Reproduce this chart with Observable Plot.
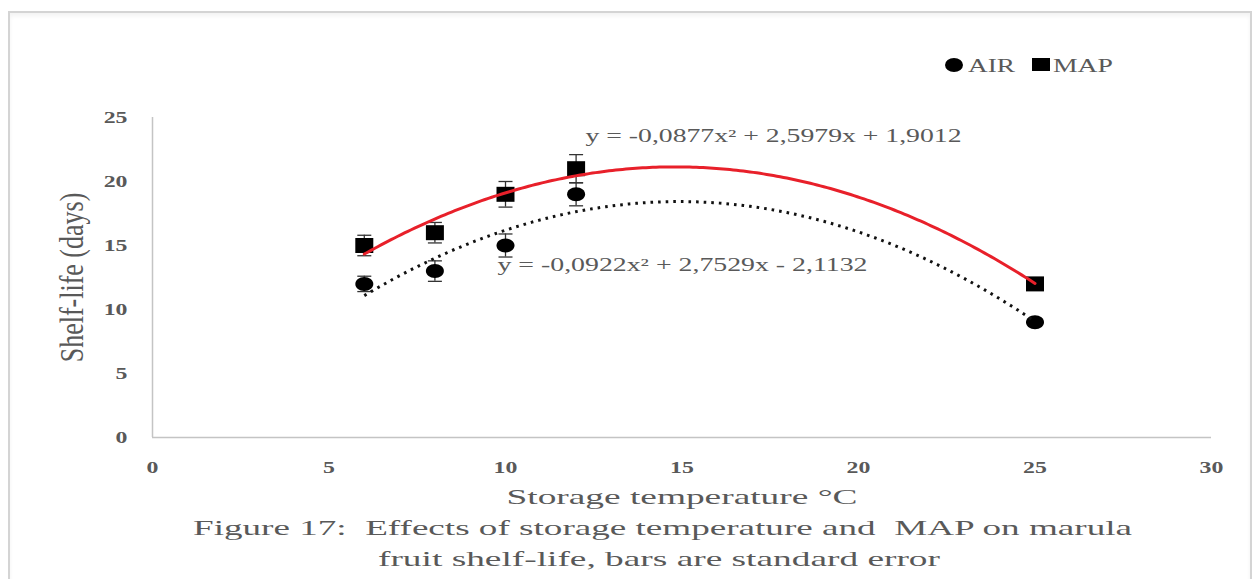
<!DOCTYPE html>
<html><head><meta charset="utf-8">
<script src="https://cdn.jsdelivr.net/npm/d3@7"></script>
<script src="https://cdn.jsdelivr.net/npm/@observablehq/plot@0.6"></script>
<style>
html,body{margin:0;padding:0;background:#fff;overflow:hidden}
body{font-family:"Liberation Serif","Times New Roman",serif}
#page{position:relative;width:1252px;height:579px;overflow:hidden}
#frame{position:absolute;left:8px;top:11px;width:1244px;height:640px;border:2px solid #d4d4d4;border-right-width:2px;box-sizing:border-box;box-shadow:inset 0 3px 4px rgba(0,0,0,0.05)}
#legend{position:absolute;left:0;top:0;width:1252px;height:90px}
.sw{position:absolute;background:#000}
.lt{position:absolute;font-size:19px;line-height:19px;color:#595959;white-space:pre;transform-origin:0 50%}
#chart{position:absolute;left:0;top:90px}
#chart svg{display:block}
.cl{position:absolute;white-space:pre;font-size:22px;line-height:22px;color:#595959;transform-origin:0 50%}
</style>
</head>
<body>
<div id="page">
  <div id="frame"></div>
  <div id="legend"></div>
  <div id="chart"></div>
  <div id="caption"></div>
</div>
<script>
// ---- data ----
const temps = [6, 8, 10, 12, 25];
const airDays = [12, 13, 15, 19, 9];
const mapDays = [15, 16, 19, 21, 12];
const airSE = [0.6, 0.8, 0.9, 0.9, 0.3];
const mapSE = [0.8, 0.8, 1.0, 1.1, 0.3];
const xTicks = [0, 5, 10, 15, 20, 25, 30];
const yTicks = [0, 5, 10, 15, 20, 25];
const seriesNames = ["AIR", "MAP"];
const eqAIR = "y = -0,0922x² + 2,7529x - 2,1132";
const eqMAP = "y = -0,0877x² + 2,5979x + 1,9012";
const xTitle = "Storage temperature °C";
const yTitle = "Shelf-life (days)";
const captionLines = ["Figure 17:  Effects of storage temperature and  MAP on marula", "fruit shelf-life, bars are standard error"];

// ---- tables ----
const air = temps.map((t, i) => ({x: t, y: airDays[i], se: airSE[i]}));
const map = temps.map((t, i) => ({x: t, y: mapDays[i], se: mapSE[i]}));

// least-squares quadratic trendline (as Excel computes it)
function quadFit(xs, ys) {
  const S = [0,0,0,0,0], T = [0,0,0];
  xs.forEach((x, i) => { for (let k = 0; k < 5; k++) S[k] += x ** k; for (let k = 0; k < 3; k++) T[k] += ys[i] * x ** k; });
  const A = [[S[0],S[1],S[2],T[0]],[S[1],S[2],S[3],T[1]],[S[2],S[3],S[4],T[2]]];
  for (let i = 0; i < 3; i++) for (let j = i + 1; j < 3; j++) { const f = A[j][i] / A[i][i]; for (let k = i; k < 4; k++) A[j][k] -= f * A[i][k]; }
  const c = [0,0,0];
  for (let i = 2; i >= 0; i--) { let s = A[i][3]; for (let k = i + 1; k < 3; k++) s -= A[i][k] * c[k]; c[i] = s / A[i][i]; }
  return c;
}
const [x0, x1] = d3.extent(temps);
function trend(ys) {
  const c = quadFit(temps, ys);
  return d3.range(0, 201).map(i => { const x = x0 + (x1 - x0) * i / 200; return {x, y: c[0] + c[1] * x + c[2] * x * x}; });
}
const airTrend = trend(airDays);
const mapTrend = trend(mapDays);

// custom symbols
const k = 0.5523;
const ellipseSym = {draw(ctx) { const rx = 9, ry = 7;
  ctx.moveTo(rx, 0); ctx.bezierCurveTo(rx, ry*k, rx*k, ry, 0, ry); ctx.bezierCurveTo(-rx*k, ry, -rx, ry*k, -rx, 0);
  ctx.bezierCurveTo(-rx, -ry*k, -rx*k, -ry, 0, -ry); ctx.bezierCurveTo(rx*k, -ry, rx, -ry*k, rx, 0); ctx.closePath(); }};
const squareSym = {draw(ctx) { ctx.rect(-9, -7.5, 18, 15); }};
const capSym = {draw(ctx) { ctx.moveTo(-7, 0); ctx.lineTo(7, 0); }};

function errMarks(data) {
  return [
    Plot.ruleX(data, {x: "x", y1: d => d.y - d.se, y2: d => d.y + d.se, stroke: "#333", strokeWidth: 1.3}),
    Plot.dot(data, {x: "x", y: d => d.y + d.se, symbol: capSym, fill: "none", stroke: "#333", strokeWidth: 1.3}),
    Plot.dot(data, {x: "x", y: d => d.y - d.se, symbol: capSym, fill: "none", stroke: "#333", strokeWidth: 1.3})
  ];
}

const plot = Plot.plot({
  width: 1252, height: 425,
  marginLeft: 152, marginRight: 41, marginTop: 27, marginBottom: 78,
  x: {domain: [0, 30], ticks: xTicks, tickSize: 0, tickPadding: 23, label: null},
  y: {domain: [0, 25], ticks: yTicks, tickSize: 0, tickPadding: 25, label: null},
  style: {fontFamily: "Liberation Serif, serif", background: "transparent", overflow: "visible", color: "#595959"},
  marks: [
    Plot.ruleY([0], {stroke: "#c4c4c4", strokeWidth: 1.5}),
    Plot.ruleX([0], {stroke: "#c4c4c4", strokeWidth: 1.5}),
    ...errMarks(air),
    ...errMarks(map),
    Plot.dot(air, {x: "x", y: "y", symbol: ellipseSym, fill: "#000", stroke: "none"}),
    Plot.dot(map, {x: "x", y: "y", symbol: squareSym, fill: "#000", stroke: "none"}),
    Plot.line(airTrend, {x: "x", y: "y", stroke: "#111", strokeWidth: 3, strokeDasharray: "2.6 5", strokeLinecap: "butt", curve: "linear"}),
    Plot.line(mapTrend, {x: "x", y: "y", stroke: "#e8202a", strokeWidth: 3, curve: "linear"}),
    Plot.text([eqMAP], {text: d => d, frameAnchor: "top-left", dx: 433, dy: 19, textAnchor: "start", lineAnchor: "middle", fontSize: 18, fill: "#595959"}),
    Plot.text([eqAIR], {text: d => d, frameAnchor: "top-left", dx: 345, dy: 148, textAnchor: "start", lineAnchor: "middle", fontSize: 18, fill: "#595959"}),
    Plot.text([xTitle], {text: d => d, frameAnchor: "bottom", dy: 59, textAnchor: "middle", lineAnchor: "middle", fontSize: 22, fill: "#595959"}),
    Plot.text([yTitle], {text: d => d, frameAnchor: "left", dx: -80, rotate: -90, textAnchor: "middle", lineAnchor: "middle", fontSize: 26, fill: "#595959"})
  ]
});
document.getElementById("chart").append(plot);

// stretch texts horizontally like the (horizontally scaled) reference picture
function stretch(t, target) {
  t.setAttribute("textLength", target);
  t.setAttribute("lengthAdjust", "spacingAndGlyphs");
}
plot.querySelectorAll('[aria-label^="x-axis"] text, [aria-label^="y-axis"] text').forEach(t => {
  t.setAttribute("font-size", 17); t.style.fontSize = "17px";
  t.setAttribute("font-weight", "bold"); t.style.fontWeight = "bold";
  t.style.fill = "#595959";
  stretch(t, t.getComputedTextLength() * 1.4);
});
plot.querySelectorAll("text").forEach(t => {
  const s = t.textContent;
  if (s === eqMAP) stretch(t, 376);
  else if (s === eqAIR) stretch(t, 370);
  else if (s === xTitle) stretch(t, 351);
  else if (s === yTitle) {
    const tr = t.getAttribute("transform");
    if (tr && tr.includes("rotate")) t.setAttribute("transform", tr + " scale(1,1.3)");
  }
});

// legend (above the svg)
const legend = document.getElementById("legend");
function fitHTML(el, left, target) {
  el.style.left = left + "px";
  const w = el.getBoundingClientRect().width;
  el.style.transform = `scaleX(${target / w})`;
}
const sw1 = document.createElement("div"); sw1.className = "sw";
Object.assign(sw1.style, {left: "945px", top: "58px", width: "18px", height: "14px", borderRadius: "50%"});
const sw2 = document.createElement("div"); sw2.className = "sw";
Object.assign(sw2.style, {left: "1032px", top: "58px", width: "18px", height: "13px"});
const l1 = document.createElement("span"); l1.className = "lt"; l1.textContent = seriesNames[0]; l1.style.top = "56px";
const l2 = document.createElement("span"); l2.className = "lt"; l2.textContent = seriesNames[1]; l2.style.top = "56px";
legend.append(sw1, l1, sw2, l2);
fitHTML(l1, 968, 47);
fitHTML(l2, 1053, 60);

// caption (below the svg)
const cap = document.getElementById("caption");
const capPos = [[193, 939, 517], [378, 562, 548]];
captionLines.forEach((line, i) => {
  const el = document.createElement("div"); el.className = "cl"; el.textContent = line;
  el.style.top = capPos[i][2] + "px";
  cap.append(el);
  fitHTML(el, capPos[i][0], capPos[i][1]);
});
</script>
</body></html>
